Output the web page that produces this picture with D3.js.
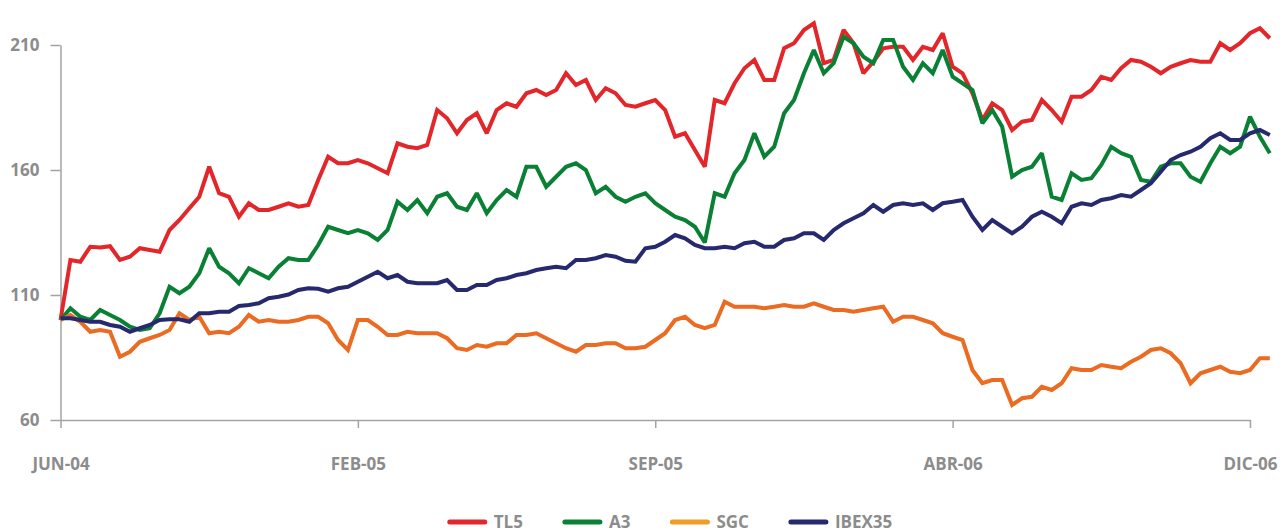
<!DOCTYPE html>
<html>
<head>
<meta charset="utf-8">
<script src="https://cdn.jsdelivr.net/npm/d3@7"></script>
<style>
  body { margin: 0; background: #fff; }
  svg { display: block; }
  svg text { font-family: "Open Sans", sans-serif; }
  .axis text { fill: #8c8c8c; font-size: 17px; font-weight: 700; }
  .axis path, .axis line { stroke: #a3a3a3; stroke-width: 1.5; }
  .legend text { fill: #8c8c8c; font-size: 17px; font-weight: 700; }
</style>
</head>
<body>
<svg id="chart" width="1288" height="532"></svg>
<script>
// Data: one value roughly every week, base 100 in JUN-04
var seriesNames = ["TL5", "A3", "SGC", "IBEX35"];

var tl5 = [100, 124, 123.3, 129.3, 129, 129.5, 124, 125.3, 128.7, 128, 127.3, 136, 140, 144.7, 149.3, 161.3, 150.7, 149.3, 141.3, 146.7,
  144, 144, 145.3, 146.7, 145.3, 146, 156, 165.3, 162.7, 162.7, 164, 162.7, 160.7, 158.7, 170.7, 169.3, 168.7, 170, 184, 180.7,
  174.7, 180, 182.7, 174.7, 184, 186.7, 185.3, 190.7, 192, 190, 192, 198.7, 194, 196, 188, 192.7, 190.7, 186, 185.3, 186.7,
  188, 184, 173.3, 174.7, 168, 161.3, 188, 186.7, 194.7, 200.7, 204, 196, 196, 208.7, 210.7, 216, 218.7, 202.7, 204, 216,
  210.7, 198.7, 203.3, 208.7, 209.3, 209.3, 204, 209.3, 208, 214.7, 201.3, 198.7, 190.7, 180, 186.7, 184, 176, 179.3, 180, 188,
  184, 179.3, 189.3, 189.3, 192, 197.3, 196, 200.7, 204, 203.3, 201.3, 198.7, 201.3, 202.7, 204, 203.3, 203.3, 210.7, 208, 210.7,
  214.7, 216.7, 212.7];

var a3 = [100, 104.7, 101.3, 100, 104, 102, 100, 97.3, 96, 96.7, 102.7, 113.3, 110.7, 113.3, 118.7, 128.7, 121.3, 118.7, 114.7, 120.7,
  118.7, 116.7, 121.3, 124.7, 124, 124, 130, 137.3, 136, 134.7, 136, 134.7, 132, 136, 147.3, 144, 148, 142.7, 149.3, 150.7,
  145.3, 144, 150.7, 142.7, 148, 152, 149.3, 161.3, 161.3, 153.3, 157.3, 161.3, 162.7, 160, 150.7, 153.3, 149.3, 147.3, 149.3, 150.7,
  146.7, 144, 141.3, 140, 137.3, 131, 150.7, 149.3, 158.7, 164, 174.7, 165.3, 169.3, 182.7, 188, 198.7, 208, 198.7, 202.7, 213.3,
  210.7, 205.3, 202.7, 212, 212, 201.3, 196, 202.7, 198.7, 208, 197.3, 194.7, 192, 178.7, 184, 177.3, 157.3, 160, 161.3, 166.7,
  149.3, 148, 158.7, 156, 156.7, 162, 169.3, 166.7, 165.3, 156, 155.3, 161.3, 162.7, 162.7, 157.3, 155.3, 162.7, 169.3, 166.7, 169.3,
  181.3, 173.3, 166.7];

var sgc = [100, 102, 99.3, 95.3, 96, 95.3, 85.3, 87.3, 91.3, 92.7, 94, 96, 102.7, 100, 101.3, 94.7, 95.3, 94.7, 97.3, 102,
  99.3, 100, 99.3, 99.3, 100, 101.3, 101.3, 98.7, 92, 88, 100, 100, 97.3, 94, 94, 95.3, 94.7, 94.7, 94.7, 92.7,
  88.7, 88, 90, 89.3, 90.7, 90.7, 94, 94, 94.7, 92.7, 90.7, 88.7, 87.3, 90, 90, 90.7, 90.7, 88.7, 88.7, 89.3,
  92, 94.7, 100, 101.3, 98, 96.7, 98, 107.3, 105.3, 105.3, 105.3, 104.7, 105.3, 106, 105.3, 105.3, 106.7, 105.3, 104, 104,
  103.3, 104, 104.7, 105.3, 99.3, 101.3, 101.3, 100, 98.7, 94.7, 93.3, 92, 80, 74.7, 76, 76, 66, 68.7, 69.3, 73.3,
  72, 74.7, 80.7, 80, 80, 82, 81.3, 80.7, 83.3, 85.3, 88, 88.7, 86.7, 82.7, 74.7, 78.7, 80, 81.3, 79.3, 78.7,
  80, 84.7, 84.7];

var ibex35 = [100.7, 100.7, 100, 99.3, 99.3, 98, 97.3, 95.3, 96.7, 98, 100, 100.3, 100.3, 99.3, 102.7, 102.7, 103.3, 103.3, 105.6, 106,
  106.7, 108.7, 109.3, 110.2, 112, 112.7, 112.5, 111.3, 112.7, 113.3, 115.3, 117.3, 119.3, 116.7, 118, 115.3, 114.7, 114.7, 114.7, 116,
  112, 112, 114, 114, 116, 116.7, 118, 118.7, 120, 120.7, 121.3, 120.7, 124, 124, 124.7, 126, 125.3, 123.7, 123.3, 128.7,
  129.3, 131.3, 134, 132.7, 130, 128.7, 128.7, 129.3, 128.7, 130.7, 131.3, 129.3, 129.3, 132, 132.7, 134.7, 134.7, 132, 136, 138.7,
  140.7, 142.7, 146, 143.3, 146, 146.7, 146, 146.7, 144, 146.7, 147.3, 148, 141.3, 136, 140, 137.3, 134.7, 137.3, 141.3, 143.3,
  141.3, 138.7, 145.3, 146.7, 146, 148, 148.7, 150, 149.3, 152, 154.7, 159.3, 164, 166, 167.3, 169.3, 172.7, 174.7, 172, 172,
  174.7, 176, 174];

// x tick labels sit every 30 points
var xTickIndex = [0, 30, 60, 90, 120];
var xTickLabels = ["JUN-04", "FEB-05", "SEP-05", "ABR-06", "DIC-06"];
var yTicks = [60, 110, 160, 210];

var lineColors = ["#e2262a", "#0a8034", "#ea6b21", "#26296e"];
var legendColors = ["#e4262d", "#0a8135", "#f29b25", "#26296e"];

var allSeries = [tl5, a3, sgc, ibex35];

var svg = d3.select("#chart");

// scales
var x = d3.scaleLinear().domain([0, 120]).range([60.5, 1250]);
var y = d3.scaleLinear().domain([60, 210]).range([420, 45]);

// axes
svg.append("g")
  .attr("class", "axis axis-x")
  .attr("transform", "translate(0,420)")
  .call(d3.axisBottom(x)
    .tickValues(xTickIndex)
    .tickFormat(function(d, i) { return xTickLabels[i]; })
    .tickSize(8)
    .tickSizeOuter(0)
    .tickPadding(30));

svg.append("g")
  .attr("class", "axis axis-y")
  .attr("transform", "translate(60.5,0)")
  .call(d3.axisLeft(y)
    .tickValues(yTicks)
    .tickSize(10)
    .tickSizeOuter(0)
    .tickPadding(11));

// lines, in legend order so IBEX35 ends up on top
var line = d3.line()
  .x(function(d, i) { return x(i); })
  .y(function(d) { return y(d); });

svg.append("g")
  .selectAll("path")
  .data(allSeries)
  .enter().append("path")
  .attr("d", line)
  .attr("fill", "none")
  .attr("stroke", function(d, i) { return lineColors[i]; })
  .attr("stroke-width", 4)
  .attr("stroke-linejoin", "miter")
  .attr("stroke-miterlimit", 2);

// legend, centred under the plot
var legend = svg.append("g").attr("class", "legend");

var items = legend.selectAll("g")
  .data(seriesNames)
  .enter().append("g");

items.append("line")
  .attr("x1", 0).attr("x2", 35)
  .attr("y1", 0).attr("y2", 0)
  .attr("stroke", function(d, i) { return legendColors[i]; })
  .attr("stroke-width", 5)
  .attr("stroke-linecap", "round");

items.append("text")
  .attr("x", 44)
  .attr("dy", "0.35em")
  .text(function(d) { return d; });

var pos = 0;
items.each(function() {
  var g = d3.select(this);
  g.attr("transform", "translate(" + pos + ",0)");
  pos += 44 + g.select("text").node().getComputedTextLength() + 42;
});
var total = pos - 42;
legend.attr("transform", "translate(" + (671 - total / 2) + ",522)");
</script>
</body>
</html>
